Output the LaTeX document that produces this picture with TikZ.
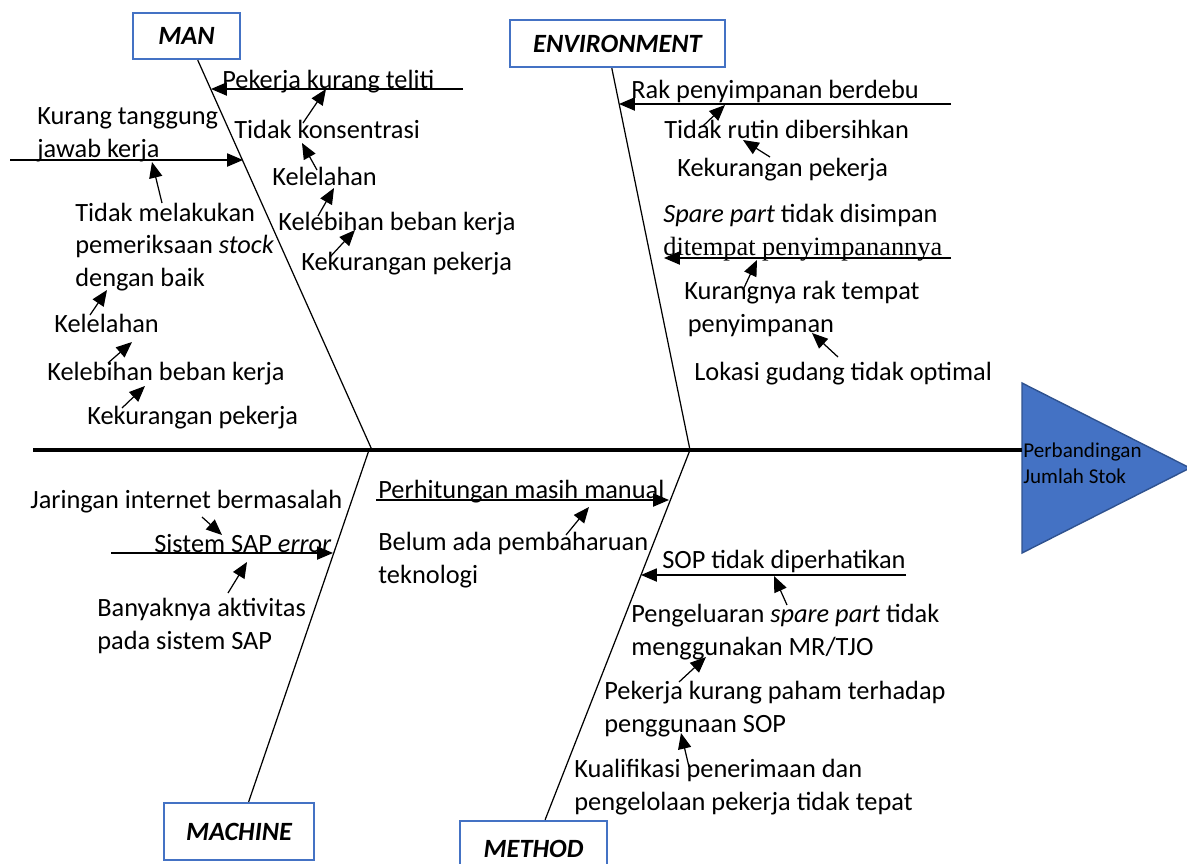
\documentclass[tikz,border=0pt]{standalone}
\usepackage{fontspec}
\setmainfont{Carlito}
\newfontfamily\timesfont{Liberation Serif}
\usetikzlibrary{arrows.meta}

\definecolor{boxblue}{HTML}{4472C4}
\definecolor{headline}{HTML}{2F528F}

\tikzset{
  catbox/.style={draw=boxblue, line width=1.3pt, inner sep=0pt,
    font=\fontsize{15}{18}\selectfont\bfseries\itshape},
  cause/.style={anchor=base west, inner sep=0pt, align=left,
    font=\fontsize{15}{18.3}\selectfont},
  bone/.style={line width=0.7pt},
  spine/.style={line width=2.3pt},
  hit/.style={line width=0.7pt, -{Triangle[length=9pt,width=7.5pt]}},
}

\begin{document}
\begin{tikzpicture}[x=0.02cm, y=-0.02cm]
  \useasboundingbox (0,0) rectangle (1187,863);

  % Category boxes
  \node[catbox, minimum width=2.14cm, minimum height=0.92cm] (man) at (186.5,36) {MAN};
  \node[catbox, minimum width=4.3cm, minimum height=0.94cm] (env) at (617.5,43.5) {ENVIRONMENT};
  \node[catbox, minimum width=3.0cm, minimum height=1.14cm] (mach) at (239,831.5) {MACHINE};
  \node[catbox, minimum width=2.94cm, minimum height=1.1cm] (meth) at (533.5,848.5) {METHOD};

  % Head
  \coordinate (tail) at (33,450);
  \coordinate (headL) at (1022,450);
  \draw[fill=boxblue, draw=headline, line width=0.8pt]
    (1022,383) -- (1190,468) -- (1022,553) -- cycle;
  \node[cause, font=\fontsize{12}{14.6}\selectfont] (effect) at (1023,483)
    {Perbandingan\\Jumlah Stok};

  % Coordinates
  \coordinate (manJ) at (372,450);
  \coordinate (envJ) at (690,450);
  \coordinate (machJ) at (369,450);
  \coordinate (methJ) at (690,450);

  \coordinate (P1) at (463,89);   \coordinate (P1b) at (211,89);
  \coordinate (P2) at (10,160);   \coordinate (P2b) at (243,160);
  \coordinate (P3) at (951,104);  \coordinate (P3b) at (619,104);
  \coordinate (P4) at (951,258);  \coordinate (P4b) at (664,258);
  \coordinate (P5) at (111,553);  \coordinate (P5b) at (333,553);
  \coordinate (P6) at (376,500);  \coordinate (P6b) at (669,500);
  \coordinate (P7) at (906,575);  \coordinate (P7b) at (641,575);

  \coordinate (A1) at (303,123);  \coordinate (B1) at (326,89);
  \coordinate (A2) at (317,170);  \coordinate (B2) at (302,143);
  \coordinate (A3) at (318,216);  \coordinate (B3) at (334,188);
  \coordinate (A4) at (330,257);  \coordinate (B4) at (355,230);
  \coordinate (A5) at (162,203);  \coordinate (B5) at (152,162);
  \coordinate (A6) at (90,315);   \coordinate (B6) at (107,290);
  \coordinate (A7) at (108,363);  \coordinate (B7) at (132,342);
  \coordinate (A8) at (122,408);  \coordinate (B8) at (145,386);
  \coordinate (E1) at (703,126);  \coordinate (F1) at (725,105);
  \coordinate (E2) at (770,157);  \coordinate (F2) at (743,140);
  \coordinate (E3) at (743,290);  \coordinate (F3) at (757,260);
  \coordinate (E4) at (838,357);  \coordinate (F4) at (812,333);
  \coordinate (M1) at (202,517);  \coordinate (N1) at (222,535);
  \coordinate (M2) at (228,593);  \coordinate (N2) at (247,562);
  \coordinate (M3) at (566,535);  \coordinate (N3) at (589,507);
  \coordinate (D1) at (787,605);  \coordinate (G1) at (774,576);
  \coordinate (D2) at (679,682);  \coordinate (G2) at (706,657);
  \coordinate (D3) at (689,767);  \coordinate (G3) at (681,733);

  % Causes (multi-line ones sit on their last baseline)
  \node[cause] (teliti) at (222,88) {Pekerja kurang teliti};
  \node[cause] (tanggung) at (37,157) {Kurang tanggung\\jawab kerja};
  \node[cause] (konsen) at (234,138) {Tidak konsentrasi};
  \node[cause] (lelahA) at (272,185) {Kelelahan};
  \node[cause] (bebanA) at (278,230) {Kelebihan beban kerja};
  \node[cause] (kurangA) at (301,270) {Kekurangan pekerja};
  \node[cause] (periksa) at (75,286) {Tidak melakukan\\pemeriksaan \textit{stock}\\dengan baik};
  \node[cause] (lelahB) at (54,332) {Kelelahan};
  \node[cause] (bebanB) at (47,380) {Kelebihan beban kerja};
  \node[cause] (kurangB) at (87,424) {Kekurangan pekerja};

  \node[cause] (debu) at (631,98) {Rak penyimpanan berdebu};
  \node[cause] (rutin) at (664,138) {Tidak rutin dibersihkan};
  \node[cause] (kurangC) at (677,176) {Kekurangan pekerja};
  \node[cause] (simpan) at (663,255) {\textit{Spare part} tidak disimpan\\{\timesfont ditempat penyimpanannya}};
  \node[cause] (rak) at (684,332) {Kurangnya rak tempat\\\hspace{2pt}penyimpanan};
  \node[cause] (lokasi) at (694,380) {Lokasi gudang tidak optimal};

  \node[cause] (jaringan) at (30,508) {Jaringan internet bermasalah};
  \node[cause] (sap) at (154,552) {Sistem SAP \textit{error}};
  \node[cause] (aktivitas) at (97,649) {Banyaknya aktivitas\\pada sistem SAP};
  \node[cause] (manual) at (378,498) {Perhitungan masih manual};
  \node[cause] (teknologi) at (378,583) {Belum ada pembaharuan\\teknologi};

  \node[cause] (sop) at (662,568) {SOP tidak diperhatikan};
  \node[cause] (keluar) at (631,655) {Pengeluaran \textit{spare part} tidak\\menggunakan MR/TJO};
  \node[cause] (paham) at (604,732) {Pekerja kurang paham terhadap\\penggunaan SOP};
  \node[cause] (kualif) at (574,810) {Kualifikasi penerimaan dan\\pengelolaan pekerja tidak tepat};

  % Drawing
  \draw[spine] (tail) -- (headL);
  \draw[bone] (man.-65) -- (manJ);
  \draw[bone] (env.-103) -- (envJ);
  \draw[bone] (mach.72) -- (machJ);
  \draw[bone] (meth.68) -- (methJ);

  \foreach \p in {1,...,7}
    \draw[hit] (P\p) -- (P\p b);
  \foreach \p in {1,...,8}
    \draw[hit] (A\p) -- (B\p);
  \foreach \p in {1,...,4}
    \draw[hit] (E\p) -- (F\p);
  \foreach \p in {1,...,3}
    \draw[hit] (M\p) -- (N\p);
  \foreach \p in {1,...,3}
    \draw[hit] (D\p) -- (G\p);
\end{tikzpicture}
\end{document}
